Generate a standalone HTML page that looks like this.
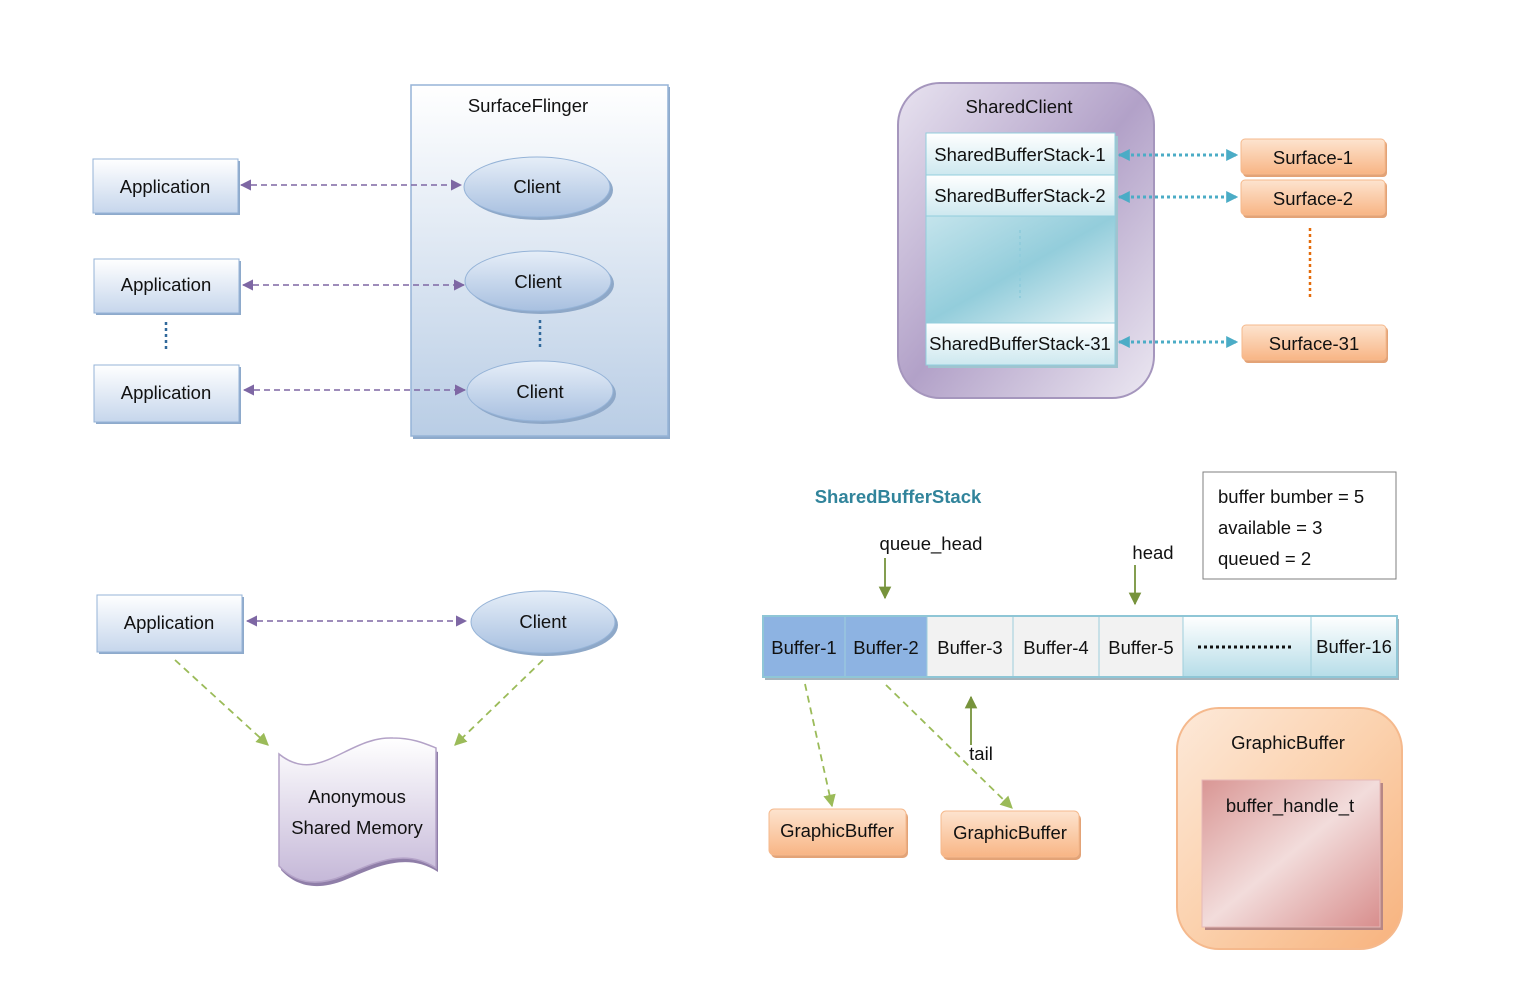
<!DOCTYPE html>
<html><head><meta charset="utf-8"><style>
html,body{margin:0;padding:0;background:#fff}
svg text{font-family:"Liberation Sans",sans-serif;font-size:18.5px;fill:#111}
</style></head><body>
<svg width="1532" height="997" viewBox="0 0 1532 997" xmlns="http://www.w3.org/2000/svg">
<defs>
<linearGradient id="sf" x1="0" y1="0" x2="0" y2="1"><stop offset="0" stop-color="#ffffff"/><stop offset="1" stop-color="#b9cde5"/></linearGradient>
<linearGradient id="app" x1="0" y1="0" x2="0" y2="1"><stop offset="0" stop-color="#ffffff"/><stop offset="1" stop-color="#c6d6ec"/></linearGradient>
<linearGradient id="ell" x1="0" y1="0" x2="0" y2="1"><stop offset="0" stop-color="#e6eef8"/><stop offset="1" stop-color="#a8c0e0"/></linearGradient>
<linearGradient id="pur" x1="0" y1="0" x2="1" y2="1"><stop offset="0" stop-color="#e8e3f0"/><stop offset="0.5" stop-color="#b2a1c8"/><stop offset="1" stop-color="#ece8f2"/></linearGradient>
<linearGradient id="row" x1="0" y1="0" x2="0" y2="1"><stop offset="0" stop-color="#ffffff"/><stop offset="1" stop-color="#cde8ef"/></linearGradient>
<linearGradient id="teal" x1="0" y1="0" x2="1" y2="1"><stop offset="0" stop-color="#c4e4ec"/><stop offset="0.5" stop-color="#93cddb"/><stop offset="1" stop-color="#e6f3f6"/></linearGradient>
<linearGradient id="or" x1="0" y1="0" x2="0" y2="1"><stop offset="0" stop-color="#fde4cf"/><stop offset="1" stop-color="#f8b585"/></linearGradient>
<linearGradient id="gb" x1="0" y1="0" x2="1" y2="1"><stop offset="0" stop-color="#fde9d9"/><stop offset="0.5" stop-color="#fbd1ad"/><stop offset="1" stop-color="#f7b27d"/></linearGradient>
<linearGradient id="pink" x1="0" y1="0" x2="1" y2="1"><stop offset="0" stop-color="#d99694"/><stop offset="0.5" stop-color="#f2dcdb"/><stop offset="1" stop-color="#d88e8d"/></linearGradient>
<linearGradient id="mem" x1="0" y1="0" x2="0" y2="1"><stop offset="0" stop-color="#ffffff"/><stop offset="1" stop-color="#c5b8d8"/></linearGradient>
<linearGradient id="dots" x1="0" y1="0" x2="0" y2="1"><stop offset="0" stop-color="#ffffff"/><stop offset="1" stop-color="#b6dde8"/></linearGradient>
<marker id="ap" viewBox="0 0 10 10" refX="9" refY="5" markerWidth="7" markerHeight="7" orient="auto-start-reverse"><path d="M0,0L10,5L0,10z" fill="#7e67a4"/></marker>
<marker id="at" viewBox="0 0 10 10" refX="9" refY="5" markerWidth="4" markerHeight="4" orient="auto-start-reverse"><path d="M0,0L10,5L0,10z" fill="#4bacc6"/></marker>
<marker id="ag" viewBox="0 0 10 10" refX="9" refY="5" markerWidth="7" markerHeight="7" orient="auto-start-reverse"><path d="M0,0L10,5L0,10z" fill="#9bbb59"/></marker>
<marker id="ao" viewBox="0 0 10 10" refX="9" refY="5" markerWidth="7" markerHeight="7" orient="auto-start-reverse"><path d="M0,0L10,5L0,10z" fill="#77933c"/></marker>
</defs>

<rect x="413" y="87" width="257" height="352" fill="#8eaacb"/>
<rect x="411" y="85" width="257" height="351" fill="url(#sf)" stroke="#95b3d7" stroke-width="1.5"/>
<text x="528" y="112" text-anchor="middle">SurfaceFlinger</text>

<g>
<rect x="95" y="161" width="145" height="54" fill="#8eaacb"/>
<rect x="93" y="159" width="145" height="54" fill="url(#app)" stroke="#95b3d7"/>
<text x="165" y="193" text-anchor="middle">Application</text>
<rect x="96" y="261" width="145" height="54" fill="#8eaacb"/>
<rect x="94" y="259" width="145" height="54" fill="url(#app)" stroke="#95b3d7"/>
<text x="166" y="291" text-anchor="middle">Application</text>
<rect x="96" y="367" width="145" height="57" fill="#8eaacb"/>
<rect x="94" y="365" width="145" height="57" fill="url(#app)" stroke="#95b3d7"/>
<text x="166" y="399" text-anchor="middle">Application</text>
</g>
<g>
<ellipse cx="540" cy="190" rx="73" ry="30" fill="#8ea8c8"/>
<ellipse cx="537" cy="187" rx="73" ry="30" fill="url(#ell)" stroke="#95b3d7"/>
<text x="537" y="193" text-anchor="middle">Client</text>
<ellipse cx="541" cy="284" rx="73" ry="30" fill="#8ea8c8"/>
<ellipse cx="538" cy="281" rx="73" ry="30" fill="url(#ell)" stroke="#95b3d7"/>
<text x="538" y="288" text-anchor="middle">Client</text>
<ellipse cx="543" cy="394" rx="73" ry="30" fill="#8ea8c8"/>
<ellipse cx="540" cy="391" rx="73" ry="30" fill="url(#ell)" stroke="#95b3d7"/>
<text x="540" y="398" text-anchor="middle">Client</text>
</g>
<g stroke="#7e67a4" stroke-width="1.6" stroke-dasharray="6,4" fill="none">
<line x1="241" y1="185" x2="461" y2="185" marker-start="url(#ap)" marker-end="url(#ap)"/>
<line x1="243" y1="285" x2="464" y2="285" marker-start="url(#ap)" marker-end="url(#ap)"/>
<line x1="244" y1="390" x2="465" y2="390" marker-start="url(#ap)" marker-end="url(#ap)"/>
<line x1="247" y1="621" x2="466" y2="621" marker-start="url(#ap)" marker-end="url(#ap)"/>
</g>
<g stroke="#31699b" stroke-width="2.5" stroke-dasharray="3,3">
<line x1="166" y1="322" x2="166" y2="349"/>
<line x1="540" y1="320" x2="540" y2="348"/>
</g>

<rect x="898" y="83" width="256" height="315" rx="42" fill="url(#pur)" stroke="#a596bd" stroke-width="2"/>
<text x="1019" y="113" text-anchor="middle">SharedClient</text>
<rect x="928" y="136" width="190" height="232" fill="#9fc4cf"/>
<rect x="926" y="133" width="189" height="42" fill="url(#row)" stroke="#92cddc"/>
<rect x="926" y="175" width="189" height="41" fill="url(#row)" stroke="#92cddc"/>
<rect x="926" y="216" width="189" height="107" fill="url(#teal)" stroke="#92cddc"/>
<rect x="926" y="323" width="189" height="42" fill="url(#row)" stroke="#92cddc"/>
<line x1="1020" y1="230" x2="1020" y2="298" stroke="#92cddc" stroke-width="2" stroke-dasharray="3,3"/>
<text x="1020" y="161" text-anchor="middle">SharedBufferStack-1</text>
<text x="1020" y="202" text-anchor="middle">SharedBufferStack-2</text>
<text x="1020" y="350" text-anchor="middle">SharedBufferStack-31</text>

<g>
<rect x="1243" y="141" width="144" height="36" rx="4" fill="#e3a377"/>
<rect x="1241" y="139" width="144" height="35" rx="4" fill="url(#or)" stroke="#f5b98d"/>
<text x="1313" y="164" text-anchor="middle">Surface-1</text>
<rect x="1243" y="182" width="144" height="36" rx="4" fill="#e3a377"/>
<rect x="1241" y="180" width="144" height="35" rx="4" fill="url(#or)" stroke="#f5b98d"/>
<text x="1313" y="205" text-anchor="middle">Surface-2</text>
<rect x="1244" y="327" width="144" height="36" rx="4" fill="#e3a377"/>
<rect x="1242" y="325" width="144" height="35" rx="4" fill="url(#or)" stroke="#f5b98d"/>
<text x="1314" y="350" text-anchor="middle">Surface-31</text>
</g>
<g stroke="#4bacc6" stroke-width="3" stroke-dasharray="3,3" fill="none">
<line x1="1119" y1="155" x2="1237" y2="155" marker-start="url(#at)" marker-end="url(#at)"/>
<line x1="1119" y1="197" x2="1237" y2="197" marker-start="url(#at)" marker-end="url(#at)"/>
<line x1="1119" y1="342" x2="1237" y2="342" marker-start="url(#at)" marker-end="url(#at)"/>
</g>
<line x1="1310" y1="228" x2="1310" y2="297" stroke="#e46c0a" stroke-width="2.5" stroke-dasharray="3,3"/>

<rect x="99" y="597" width="145" height="57" fill="#8eaacb"/>
<rect x="97" y="595" width="145" height="57" fill="url(#app)" stroke="#95b3d7"/>
<text x="169" y="629" text-anchor="middle">Application</text>
<ellipse cx="546" cy="625" rx="72" ry="31" fill="#8ea8c8"/>
<ellipse cx="543" cy="622" rx="72" ry="31" fill="url(#ell)" stroke="#95b3d7"/>
<text x="543" y="628" text-anchor="middle">Client</text>
<g stroke="#9bbb59" stroke-width="1.8" stroke-dasharray="7,5" fill="none">
<line x1="175" y1="660" x2="268" y2="745" marker-end="url(#ag)"/>
<line x1="543" y1="660" x2="455" y2="745" marker-end="url(#ag)"/>
<line x1="805" y1="684" x2="832" y2="806" marker-end="url(#ag)"/>
<line x1="886" y1="685" x2="1012" y2="808" marker-end="url(#ag)"/>
</g>
<path d="M281,758 C320,790 350,740 395,742 C415,742 428,748 438,752 L438,872 C405,850 370,870 345,880 C315,892 295,885 281,870 Z" fill="#8f7ea8"/>
<path d="M279,754 C318,786 348,736 393,738 C413,738 426,744 436,748 L436,868 C403,846 368,866 343,876 C313,888 293,881 279,866 Z" fill="url(#mem)" stroke="#b3a2c7" stroke-width="1.5"/>
<text x="357" y="803" text-anchor="middle">Anonymous</text>
<text x="357" y="834" text-anchor="middle">Shared Memory</text>

<text x="898" y="503" text-anchor="middle" style="fill:#31849b;font-weight:bold">SharedBufferStack</text>
<rect x="1203" y="472" width="193" height="107" fill="#fff" stroke="#7f7f7f"/>
<text x="1218" y="503">buffer bumber = 5</text>
<text x="1218" y="534">available = 3</text>
<text x="1218" y="565">queued = 2</text>
<text x="931" y="550" text-anchor="middle">queue_head</text>
<text x="1153" y="559" text-anchor="middle">head</text>
<g stroke="#77933c" stroke-width="1.8" fill="none">
<line x1="885" y1="558" x2="885" y2="598" marker-end="url(#ao)"/>
<line x1="1135" y1="565" x2="1135" y2="604" marker-end="url(#ao)"/>
<line x1="971" y1="745" x2="971" y2="697" marker-end="url(#ao)"/>
</g>
<text x="981" y="760" text-anchor="middle">tail</text>

<rect x="765" y="619" width="634" height="61" fill="#a6b4bc"/>
<rect x="763" y="616" width="82" height="61" fill="#8db3e2" stroke="#9fcfdc"/>
<rect x="845" y="616" width="82" height="61" fill="#8db3e2" stroke="#9fcfdc"/>
<rect x="927" y="616" width="86" height="61" fill="#f2f2f2" stroke="#9fcfdc"/>
<rect x="1013" y="616" width="86" height="61" fill="#f2f2f2" stroke="#9fcfdc"/>
<rect x="1099" y="616" width="84" height="61" fill="#f2f2f2" stroke="#9fcfdc"/>
<rect x="1183" y="616" width="128" height="61" fill="url(#dots)" stroke="#9fcfdc"/>
<rect x="1311" y="616" width="86" height="61" fill="url(#dots)" stroke="#9fcfdc"/>
<rect x="763" y="616" width="634" height="61" fill="none" stroke="#8fc6d6" stroke-width="2"/>
<text x="804" y="654" text-anchor="middle">Buffer-1</text>
<text x="886" y="654" text-anchor="middle">Buffer-2</text>
<text x="970" y="654" text-anchor="middle">Buffer-3</text>
<text x="1056" y="654" text-anchor="middle">Buffer-4</text>
<text x="1141" y="654" text-anchor="middle">Buffer-5</text>
<line x1="1198" y1="647" x2="1294" y2="647" stroke="#111" stroke-width="3" stroke-dasharray="3,3"/>
<text x="1354" y="653" text-anchor="middle">Buffer-16</text>

<rect x="771" y="812" width="137" height="46" rx="5" fill="#e3a377"/>
<rect x="769" y="809" width="137" height="46" rx="5" fill="url(#or)" stroke="#f5b98d"/>
<text x="837" y="837" text-anchor="middle">GraphicBuffer</text>
<rect x="943" y="814" width="138" height="46" rx="5" fill="#e3a377"/>
<rect x="941" y="811" width="138" height="46" rx="5" fill="url(#or)" stroke="#f5b98d"/>
<text x="1010" y="839" text-anchor="middle">GraphicBuffer</text>

<rect x="1177" y="708" width="225" height="241" rx="42" fill="url(#gb)" stroke="#f5b98d" stroke-width="2"/>
<text x="1288" y="749" text-anchor="middle">GraphicBuffer</text>
<rect x="1205" y="783" width="178" height="147" fill="#b78785"/>
<rect x="1202" y="780" width="178" height="147" fill="url(#pink)" stroke="#e6b9b8"/>
<text x="1290" y="812" text-anchor="middle">buffer_handle_t</text>
</svg>
</body></html>
